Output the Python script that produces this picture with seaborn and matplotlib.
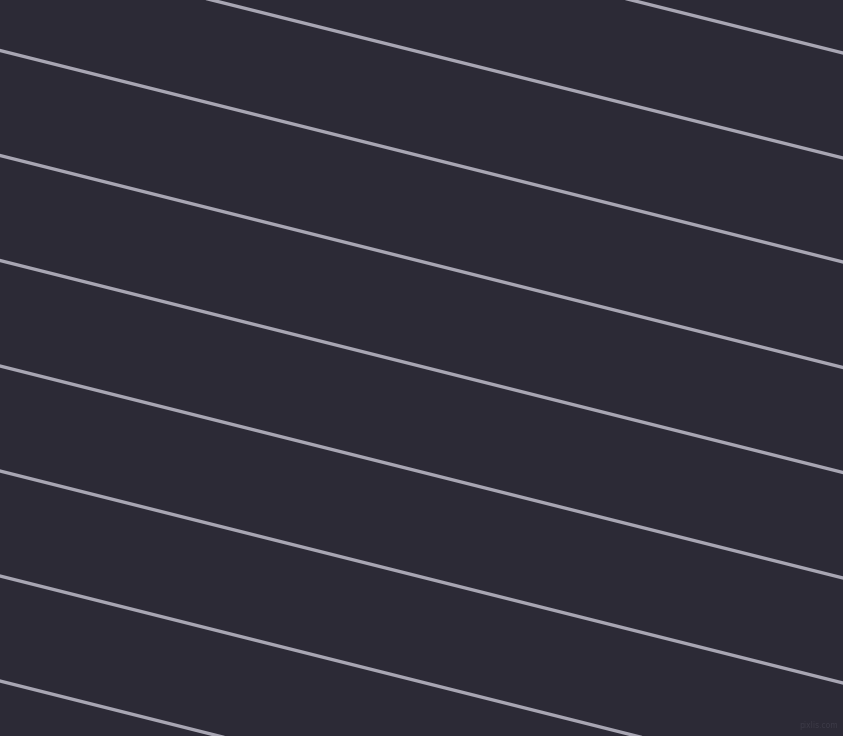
import matplotlib
matplotlib.use("Agg")
import matplotlib.pyplot as plt
import seaborn as sns
import pandas as pd

# Line endpoints (pixel coordinates: left edge x=0, right edge x=843)
line_ids = [0, 1, 2, 3, 4, 5, 6, 7, 8, 9]
y_left = [-158.0, -53.0, 50.5, 155.5, 260.5, 366.0, 471.0, 576.0, 681.0, 786.0]
y_right = [53.0, 158.0, 262.0, 367.5, 472.5, 578.0, 683.0, 788.0, 893.0, 998.0]
x_edges = [0, 843]

bg = "#2c2a36"
line_color = "#a8a6b3"

rows = []
for lid, yl, yr in zip(line_ids, y_left, y_right):
    rows.append({"line": lid, "x": x_edges[0], "y": yl})
    rows.append({"line": lid, "x": x_edges[1], "y": yr})
df = pd.DataFrame(rows)

fig = plt.figure(figsize=(8.43, 7.36), dpi=100)
fig.patch.set_facecolor(bg)
ax = fig.add_axes([0, 0, 1, 1])
ax.set_facecolor(bg)

sns.lineplot(data=df, x="x", y="y", hue="line",
             palette=[line_color] * len(line_ids), legend=False,
             linewidth=2.4, ax=ax, estimator=None, sort=False)

ax.set_xlim(0, 843)
ax.set_ylim(736, 0)
ax.set_axis_off()

fig.text(0.994, 0.008, "pixlis.com", ha="right", va="bottom",
         fontsize=5.5, color="#3c3a47")

fig.savefig("out.png", dpi=100, facecolor=bg)
